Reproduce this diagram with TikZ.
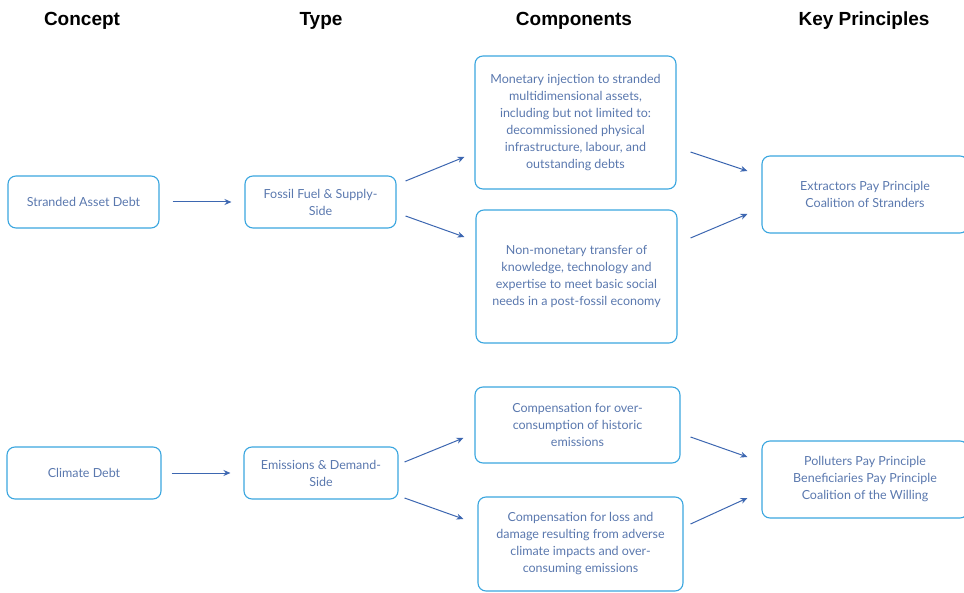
\documentclass[tikz,border=0pt]{standalone}
\usepackage{fontspec}
\setmainfont{Lato}
\newfontfamily\headfont{Liberation Sans}
\usetikzlibrary{calc,arrows.meta}
\definecolor{bord}{HTML}{3AA6DF}
\definecolor{txt}{HTML}{5A78AE}
\definecolor{arr}{HTML}{3D67B1}
\begin{document}
\begin{tikzpicture}[x=1pt,y=-1pt,
  box/.style={draw=bord, line width=1.1pt, rounded corners=8pt, align=center, text=txt,
    font=\fontsize{12.5}{17}\selectfont, inner sep=0pt},
  head/.style={font=\headfont\bfseries\fontsize{19}{22}\selectfont, text=black},
  arrow/.style={-{Stealth[length=7pt,width=6pt]}, draw=arr, line width=1pt}]
\useasboundingbox (0,0) rectangle (964,593);
% headers
\node[head] (h1) at (82,20.5) {Concept};
\node[head] (h2) at (321,20.5) {Type};
\node[head] (h3) at (574,20.5) {Components};
\node[head] (h4) at (864,20.5) {Key Principles};
% top row
\node[box, minimum width=151pt, minimum height=52pt] (sad) at (83.5,202) {Stranded Asset Debt};
\node[box, minimum width=151pt, minimum height=52pt] (fos) at (320.5,202) {Fossil Fuel \& Supply-\\Side};
\node[box, minimum width=201pt, minimum height=133pt] (mon) at (575.5,122.5) {Monetary injection to stranded\\multidimensional assets,\\including but not limited to:\\decommissioned physical\\infrastructure, labour, and\\outstanding debts};
\node[box, minimum width=201pt, minimum height=133pt] (non) at (576.5,276.5) {Non-monetary transfer of\\knowledge, technology and\\expertise to meet basic social\\needs in a post-fossil economy};
\node[box, minimum width=206pt, minimum height=77pt] (ext) at (865,194.5) {Extractors Pay Principle\\Coalition of Stranders};
% bottom row
\node[box, minimum width=154pt, minimum height=52pt] (cd) at (84,473) {Climate Debt};
\node[box, minimum width=154pt, minimum height=52pt] (em) at (321,473) {Emissions \& Demand-\\Side};
\node[box, minimum width=205pt, minimum height=76pt] (co1) at (577.5,425) {Compensation for over-\\consumption of historic\\emissions};
\node[box, minimum width=205pt, minimum height=94pt] (co2) at (580.5,544) {Compensation for loss and\\damage resulting from adverse\\climate impacts and over-\\consuming emissions};
\node[box, minimum width=206pt, minimum height=77pt] (pol) at (865,479.5) {Polluters Pay Principle\\Beneficiaries Pay Principle\\Coalition of the Willing};
% arrows
\draw[arrow] ($(sad.east)+(13,0)$) -- ($(fos.west)+(-13,0)$);
\draw[arrow] ($(fos.east)+(9,-21)$) -- ($(mon.west)+(-10,34.5)$);
\draw[arrow] ($(fos.east)+(9,14)$) -- ($(non.west)+(-11,-39.5)$);
\draw[arrow] ($(mon.east)+(14,29.5)$) -- ($(ext.west)+(-14,-23.5)$);
\draw[arrow] ($(non.east)+(13,-38.5)$) -- ($(ext.west)+(-14,19.5)$);
\draw[arrow] ($(cd.east)+(10,0)$) -- ($(em.west)+(-13,0)$);
\draw[arrow] ($(em.east)+(6,-11)$) -- ($(co1.west)+(-11,13)$);
\draw[arrow] ($(em.east)+(6,25)$) -- ($(co2.west)+(-14,-25)$);
\draw[arrow] ($(co1.east)+(10,12)$) -- ($(pol.west)+(-14,-22.5)$);
\draw[arrow] ($(co2.east)+(7,-20)$) -- ($(pol.west)+(-14,18.5)$);
\end{tikzpicture}
\end{document}
